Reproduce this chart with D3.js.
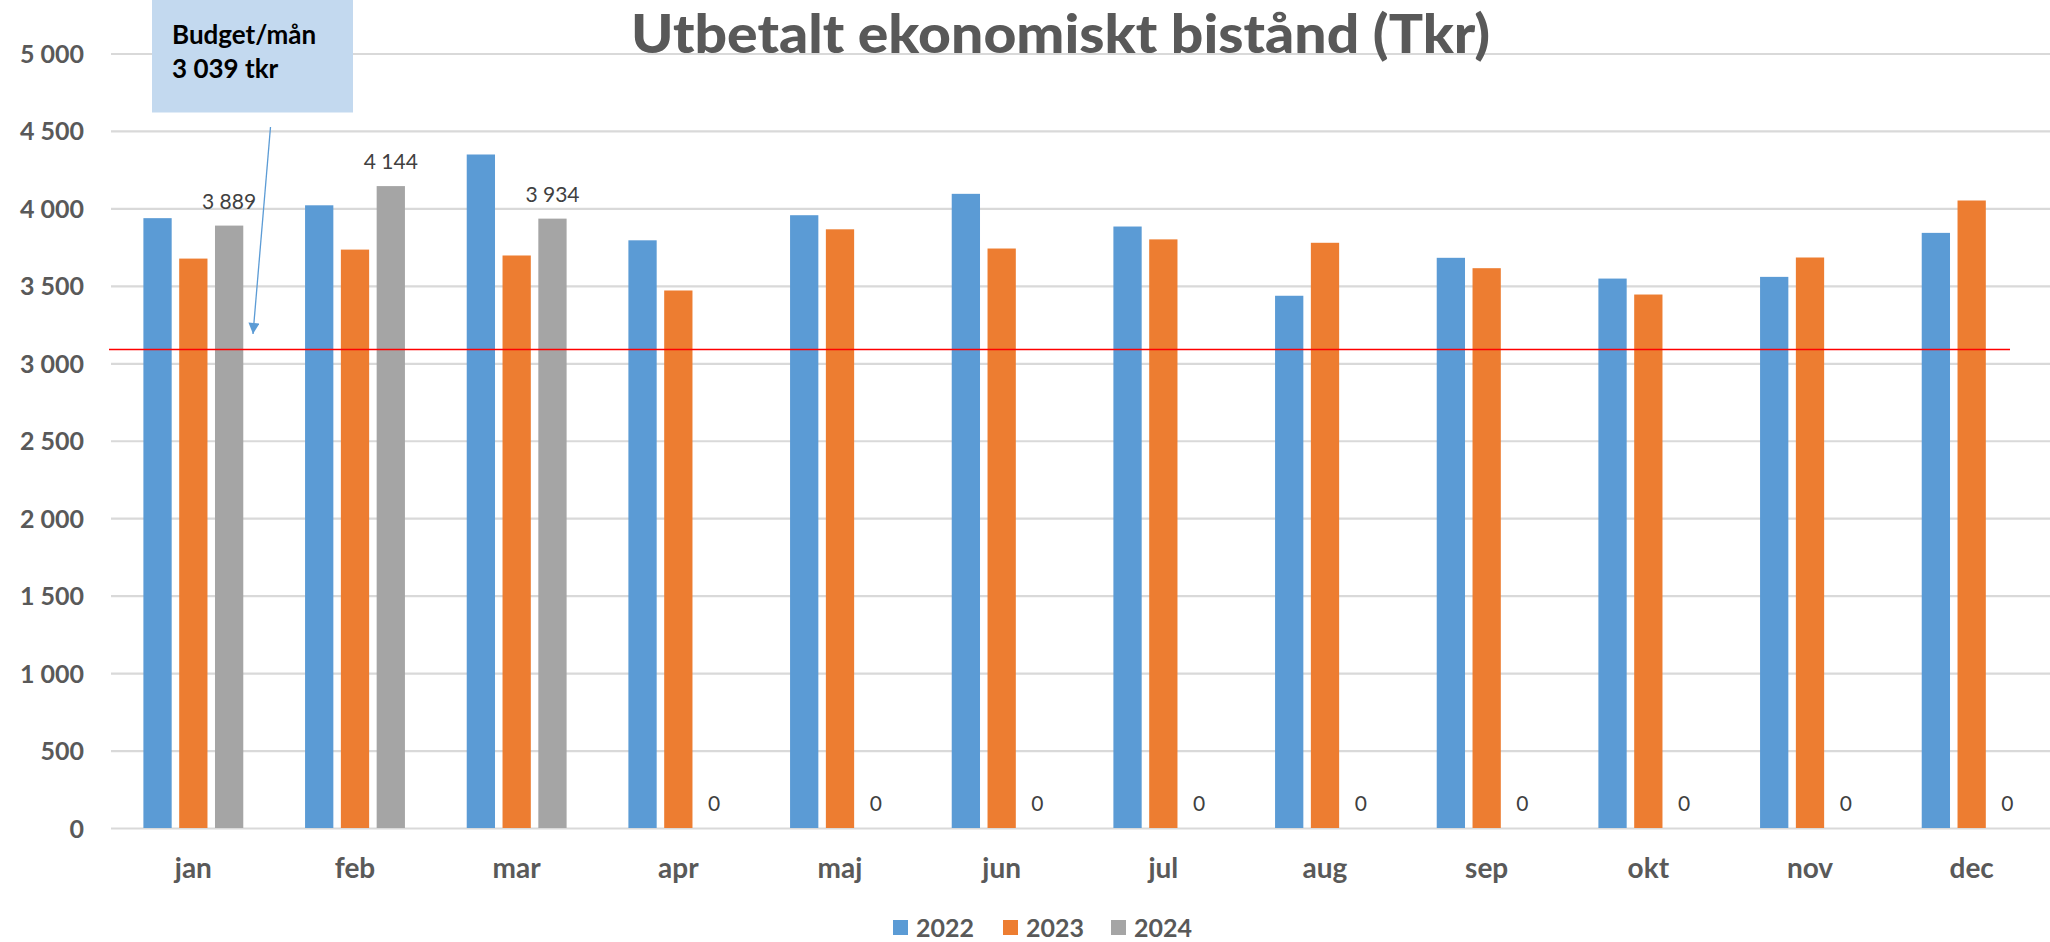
<!DOCTYPE html>
<html>
<head>
<meta charset="utf-8">
<script src="https://cdn.jsdelivr.net/npm/d3@7"></script>
<style>
  html, body { margin: 0; padding: 0; background: #fff; }
  svg { display: block; }
</style>
</head>
<body>
<svg id="chart" width="2050" height="942"></svg>
<script>
// ---- Data ----
const months = ["jan","feb","mar","apr","maj","jun","jul","aug","sep","okt","nov","dec"];
const series = ["2022","2023","2024"];
const values2022 = [3937, 4020, 4348, 3794, 3956, 4094, 3883, 3436, 3681, 3547, 3558, 3842];
const values2023 = [3676, 3734, 3696, 3470, 3865, 3741, 3800, 3778, 3614, 3444, 3683, 4051];
const values2024 = [3889, 4144, 3934, 0, 0, 0, 0, 0, 0, 0, 0, 0];
const yTicks = [0, 500, 1000, 1500, 2000, 2500, 3000, 3500, 4000, 4500, 5000];
const budgetLineValue = 3089;
const titleText = "Utbetalt ekonomiskt bistånd (Tkr)";
const annotationLines = ["Budget/mån", "3 039 tkr"];

const colors = { "2022": "#5b9bd5", "2023": "#ed7d31", "2024": "#a5a5a5" };
const seriesValues = { "2022": values2022, "2023": values2023, "2024": values2024 };

const locale = d3.formatLocale({ decimal: ",", thousands: " ", grouping: [3], currency: ["", " kr"] });
const fmt = locale.format(",d");

const svg = d3.select("#chart");
const FONT = "Lato, 'Open Sans', sans-serif";

// ---- Scales ----
const y = d3.scaleLinear().domain([0, 5000]).range([828, 53.5]);
const x = d3.scaleBand().domain(months).range([112.5, 2052.5]).padding(0);
const xs = d3.scaleBand().domain(series).range([0, x.bandwidth()]).paddingInner(0.21).paddingOuter(0.863);

// ---- Gridlines ----
const yAxis = d3.axisLeft(y).tickValues(yTicks).tickSize(-(2050 - 111)).tickFormat(fmt).tickPadding(27);
const gy = svg.append("g").attr("transform", "translate(111,0)").call(yAxis);
gy.select(".domain").remove();
gy.selectAll(".tick line").attr("stroke", "#d9d9d9").attr("stroke-width", 2.2);
gy.selectAll(".tick text")
  .attr("fill", "#595959")
  .attr("font-family", FONT)
  .attr("font-weight", "bold")
  .attr("font-size", 25)
  .attr("dy", "0.36em");

// ---- Bars ----
const groups = svg.append("g").selectAll("g.month")
  .data(months)
  .join("g")
  .attr("class", "month")
  .attr("transform", d => `translate(${x(d)},0)`);

groups.selectAll("rect")
  .data((m, i) => series.map(s => ({ s, v: seriesValues[s][i] })))
  .join("rect")
  .attr("x", d => xs(d.s))
  .attr("width", xs.bandwidth())
  .attr("y", d => y(d.v))
  .attr("height", d => y(0) - y(d.v))
  .attr("fill", d => colors[d.s]);

// ---- Data labels for 2024 ----
groups.append("text")
  .datum((m, i) => values2024[i])
  .attr("x", xs("2024") + xs.bandwidth() / 2)
  .attr("y", d => y(d) - 17)
  .attr("text-anchor", "middle")
  .attr("font-family", FONT)
  .attr("font-size", 21)
  .attr("fill", "#404040")
  .text(d => fmt(d));

// ---- X axis labels ----
const xAxis = d3.axisBottom(x).tickSize(0).tickPadding(0);
const gx = svg.append("g").attr("transform", "translate(0,828)").call(xAxis);
gx.select(".domain").remove();
gx.selectAll(".tick text")
  .attr("y", 50)
  .attr("dy", 0)
  .attr("fill", "#595959")
  .attr("font-family", FONT)
  .attr("font-weight", "bold")
  .attr("font-size", 28);

// ---- Budget line ----
svg.append("line")
  .attr("x1", 109).attr("x2", 2010)
  .attr("y1", y(budgetLineValue)).attr("y2", y(budgetLineValue))
  .attr("stroke", "#ff0000").attr("stroke-width", 1.6);

// ---- Title ----
svg.append("text")
  .attr("x", 631).attr("y", 53)
  .attr("font-family", FONT)
  .attr("font-weight", "900")
  .attr("font-size", 54)
  .attr("fill", "#595959")
  .attr("textLength", 859)
  .attr("lengthAdjust", "spacingAndGlyphs")
  .text(titleText);

// ---- Annotation box ----
svg.append("rect")
  .attr("x", 152).attr("y", 0).attr("width", 201).attr("height", 112.5)
  .attr("fill", "#c3d9ef");
svg.append("g").selectAll("text")
  .data(annotationLines)
  .join("text")
  .attr("x", 172)
  .attr("y", (d, i) => 44 + i * 34)
  .attr("font-family", FONT)
  .attr("font-weight", "bold")
  .attr("font-size", 26)
  .attr("fill", "#000")
  .text(d => d);

// ---- Arrow ----
const defs = svg.append("defs");
defs.append("marker")
  .attr("id", "arrowhead")
  .attr("viewBox", "0 0 10 10")
  .attr("refX", 10).attr("refY", 5)
  .attr("markerWidth", 13).attr("markerHeight", 11)
  .attr("markerUnits", "userSpaceOnUse")
  .attr("orient", "auto")
  .append("path").attr("d", "M0,0 L10,5 L0,10 Z").attr("fill", "#5b9bd5");
svg.append("line")
  .attr("x1", 270.5).attr("y1", 127)
  .attr("x2", 253).attr("y2", 334)
  .attr("stroke", "#5b9bd5").attr("stroke-width", 1.3)
  .attr("marker-end", "url(#arrowhead)");

// ---- Legend ----
const legendX = [893, 1003, 1111];
const legend = svg.append("g").selectAll("g")
  .data(series)
  .join("g")
  .attr("transform", (d, i) => `translate(${legendX[i]},0)`);
legend.append("rect")
  .attr("x", 0).attr("y", 920).attr("width", 15).attr("height", 15)
  .attr("fill", d => colors[d]);
legend.append("text")
  .attr("x", 23).attr("y", 937)
  .attr("font-family", FONT)
  .attr("font-weight", "bold")
  .attr("font-size", 25)
  .attr("fill", "#595959")
  .text(d => d);
</script>
</body>
</html>
